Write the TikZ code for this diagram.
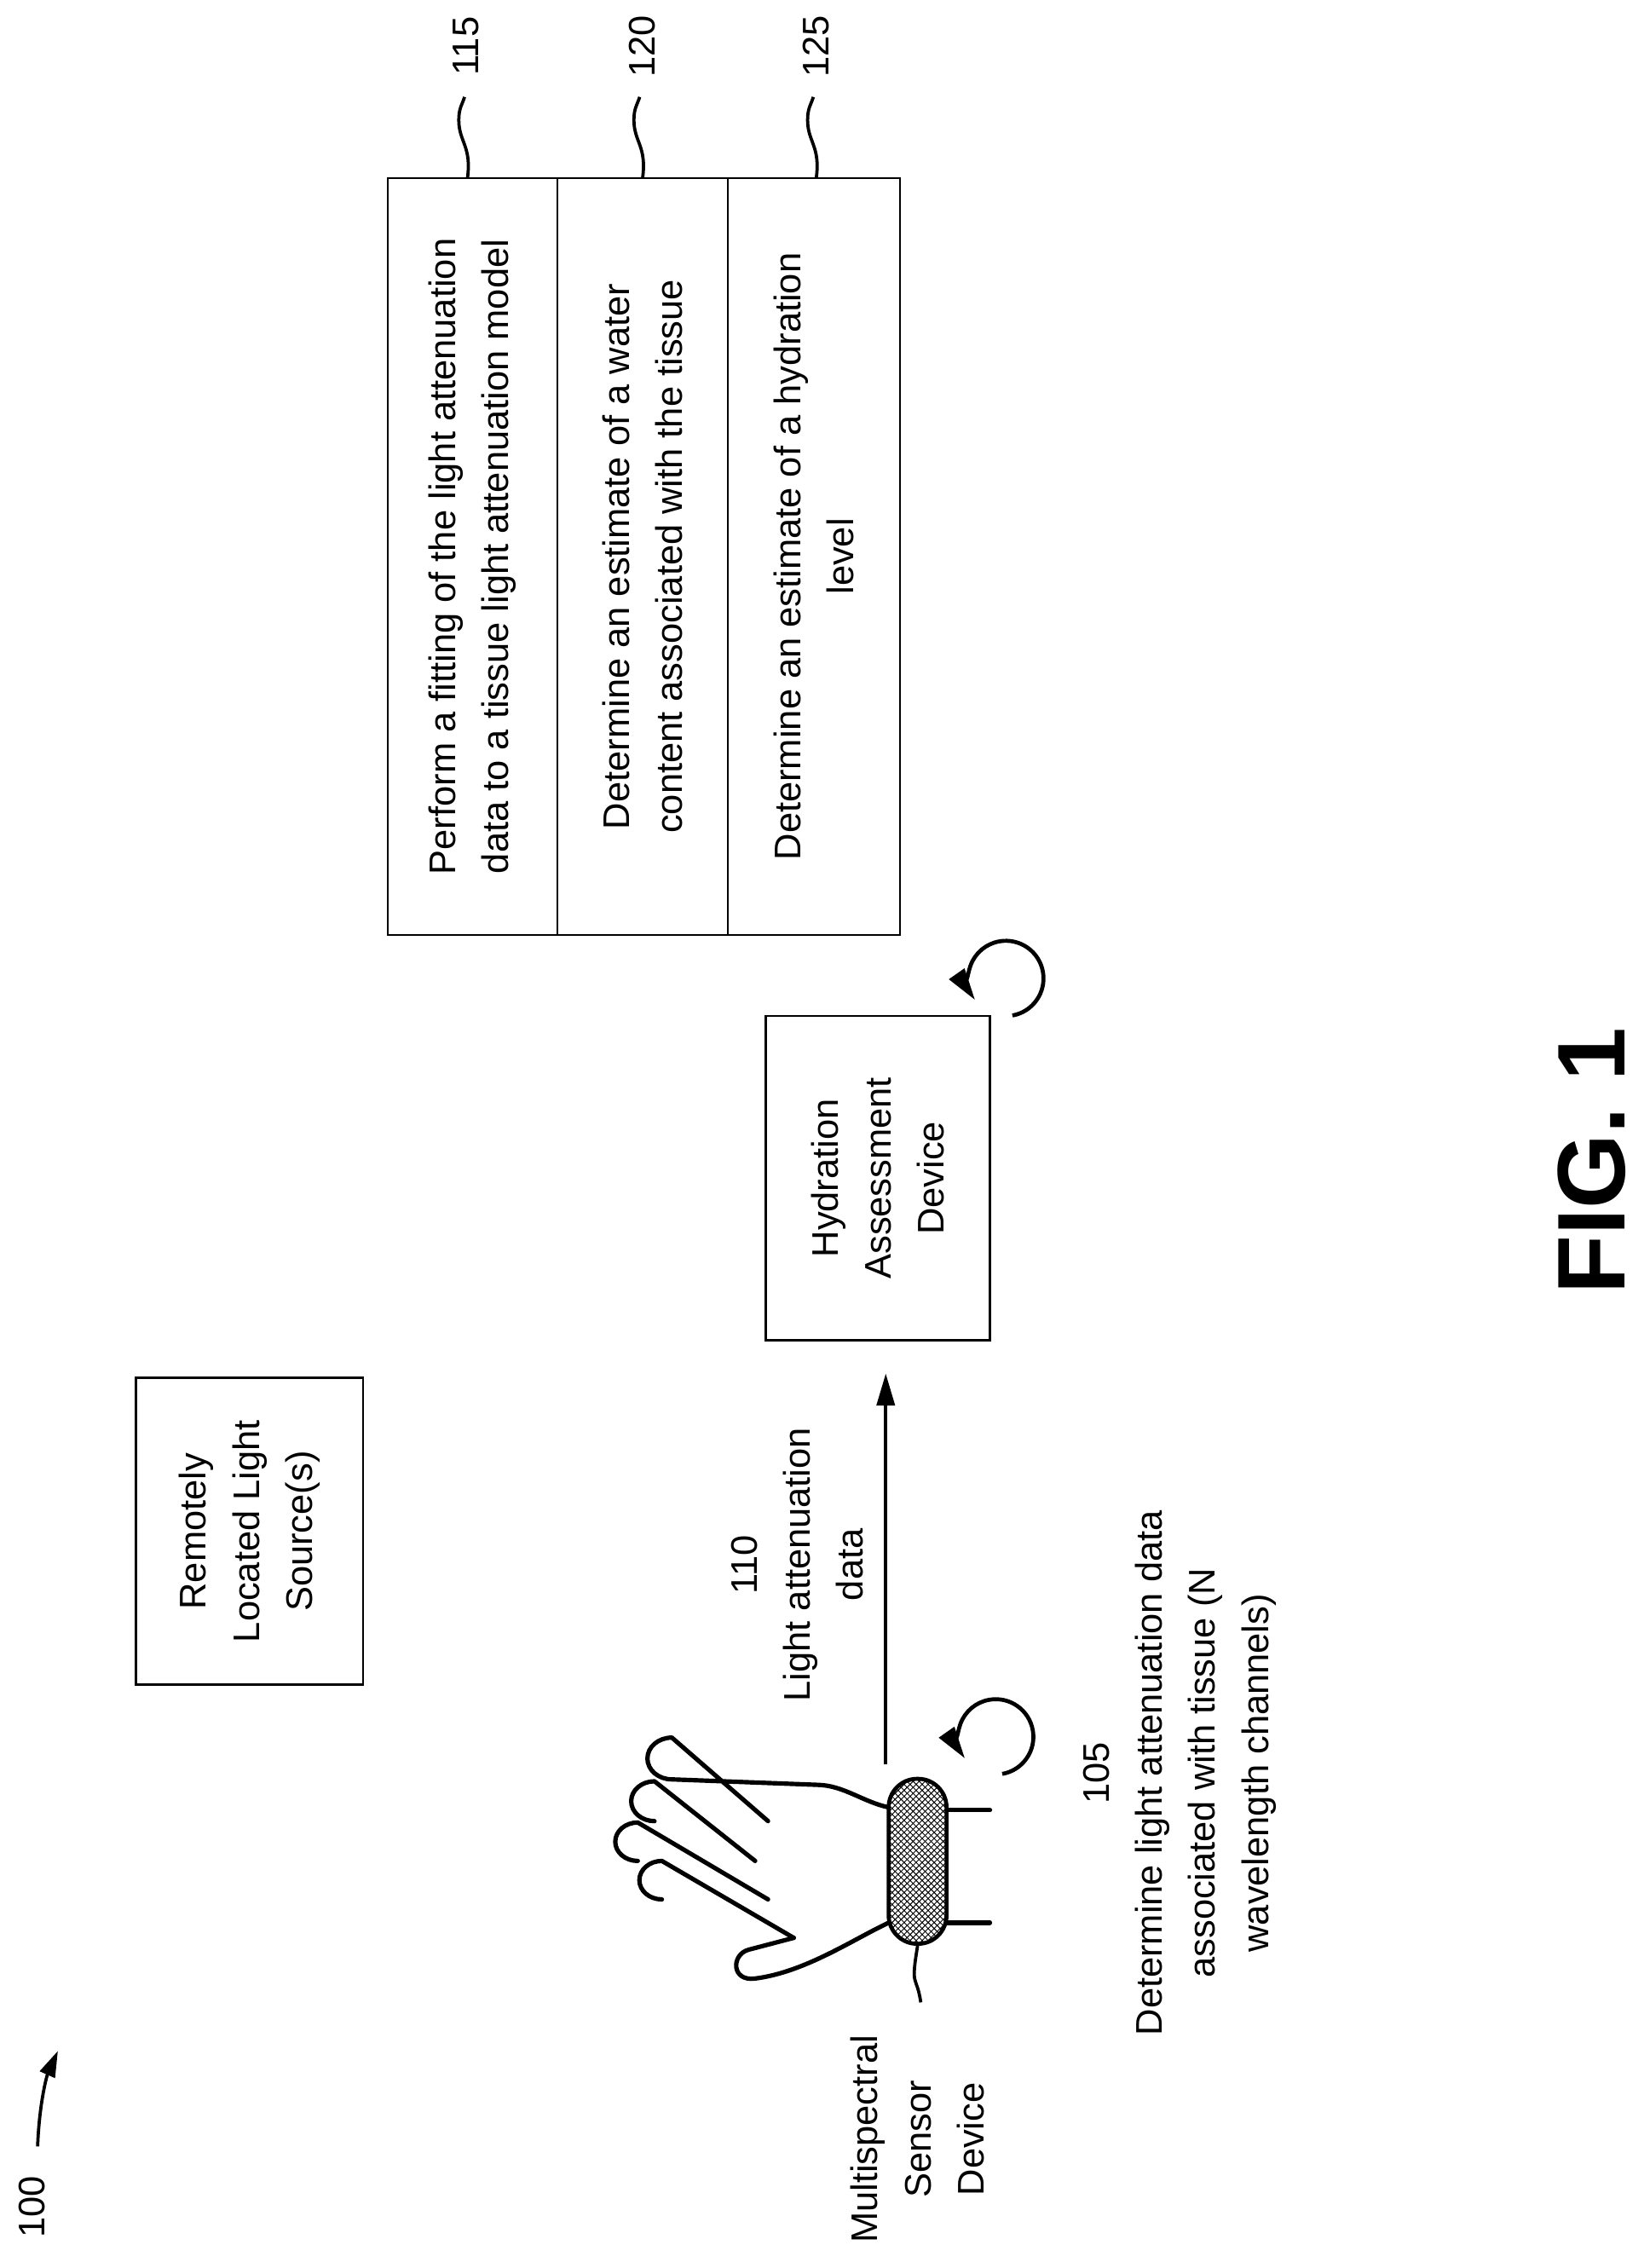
\documentclass[tikz,border=0pt]{standalone}
\usepackage{fontspec}
\setmainfont{Liberation Sans}
\usetikzlibrary{arrows.meta,patterns}
\begin{document}
\begin{tikzpicture}[x=0.0254cm,y=-0.0254cm,
  txt/.style={rotate=90,align=center,inner sep=0pt,font=\fontsize{18.5}{26.5}\selectfont},
  box/.style={draw,line width=1pt,inner sep=0pt,outer sep=0pt},
  thick line/.style={line width=2pt},
  tip/.style={-{Triangle[length=16pt,width=9pt]}},
  loopar/.style={line width=2pt,-{Triangle[length=16pt,width=9pt]}}]
\useasboundingbox (0,0) rectangle (1140,1567);
% table
\node[box,minimum width=354*0.0254cm,minimum height=523*0.0254cm] (tab) at (445,384.5) {};
\node[box,minimum width=117*0.0254cm,minimum height=523*0.0254cm] (r1) at (326.5,384.5) {};
\node[box,minimum width=118*0.0254cm,minimum height=523*0.0254cm] (r2) at (444,384.5) {};
\node[box,minimum width=119*0.0254cm,minimum height=523*0.0254cm] (r3) at (562.5,384.5) {};
\node[txt] (t1) at (r1) {Perform a fitting of the light attenuation\\data to a tissue light attenuation model};
\node[txt] (t2) at (r2) {Determine an estimate of a water\\content associated with the tissue};
\node[txt] (t3) at (r3) {Determine an estimate of a hydration\\level};
% ref labels
\node[txt] (l115) at (322,32) {115};
\node[txt] (l120) at (444,32) {120};
\node[txt] (l125) at (564,32) {125};
\foreach \n/\x in {r1/323,r2/444,r3/564}{
  \draw[line width=1.6pt] (\n.north -| \x,0) .. controls +(3,-22) and +(0,15) .. ++(-6,-40) .. controls +(0,-8) and +(-2,6) .. ++(4,-16);
}
% hydration device
\node[box,minimum width=155*0.0254cm,minimum height=224*0.0254cm] (hyd) at (606.5,814) {};
\node[txt] (hydt) at (hyd) {Hydration\\Assessment\\Device};
\draw[loopar] (695,676) ++(80:26) arc[start angle=80,end angle=-215,radius=26];
% remote light source
\node[box,minimum width=157*0.0254cm,minimum height=212*0.0254cm] (rem) at (172.5,1058) {};
\node[txt] (remt) at (rem) {Remotely\\Located Light\\Source(s)};
% arrow 110
\coordinate (aS) at (612,1219);
\coordinate (aE) at (612,949);
\draw[line width=1.6pt,tip] (aS) -- (aE);
\node[txt] (l110) at (551,1081) {110\\Light attenuation\\data};
% hand
\begin{scope}[shift={(400.67,1102.6)},x=0.005644cm,y=-0.004829cm,line width=2.2pt,line cap=round,line join=round]
\draw (960,770) .. controls (880,750) and (820,690) .. (740,688) -- (286,668) arc[start angle=90,end angle=270,radius=76] -- (585,820);
\draw (232,820) arc[start angle=90,end angle=270,radius=72.5] -- (545,965);
\draw (180,965) arc[start angle=90,end angle=270,radius=70] -- (585,1105);
\draw (255,1105) arc[start angle=90,end angle=270,radius=70] -- (665,1245);
\draw (665,1245) -- (525,1288) .. controls (470,1305) and (470,1405) .. (545,1393) .. controls (700,1370) and (850,1250) .. (960,1190);
\draw (1140,780) -- (1275,780);
\draw (1140,1190) -- (1275,1190);
\coordinate (sq) at (1045,1265);
\coordinate (sqE) at (1060,1480);
\end{scope}
\node[draw,line width=2pt,pattern=crosshatch,minimum width=40*0.0254cm,minimum height=114*0.0254cm,rounded corners=0.5cm,inner sep=0pt] (band) at (634,1286) {};
\draw[line width=1.6pt] (band.south) .. controls +(-5,30) and +(-3,-20) .. (sqE);
\draw[loopar] (688,1200) ++(80:26) arc[start angle=80,end angle=-215,radius=26];
\node[txt] (msd) at (634,1478) {Multispectral\\Sensor\\Device};
\node[txt] (l105) at (815,1225) {105\\Determine light attenuation data\\associated with tissue (N\\wavelength channels)};
% 100
\node[txt] (l100) at (22,1525) {100};
\coordinate (hS) at (26,1483);
\coordinate (hE) at (40,1417);
\draw[line width=1.6pt,-{Triangle[length=13pt,width=8pt]}] (hS) .. controls (27,1455) and (32,1435) .. (hE);
% FIG
\node[rotate=90,inner sep=0pt,font=\fontsize{48}{50}\selectfont\bfseries] (fig) at (1100,802) {FIG. 1};
\end{tikzpicture}
\end{document}
